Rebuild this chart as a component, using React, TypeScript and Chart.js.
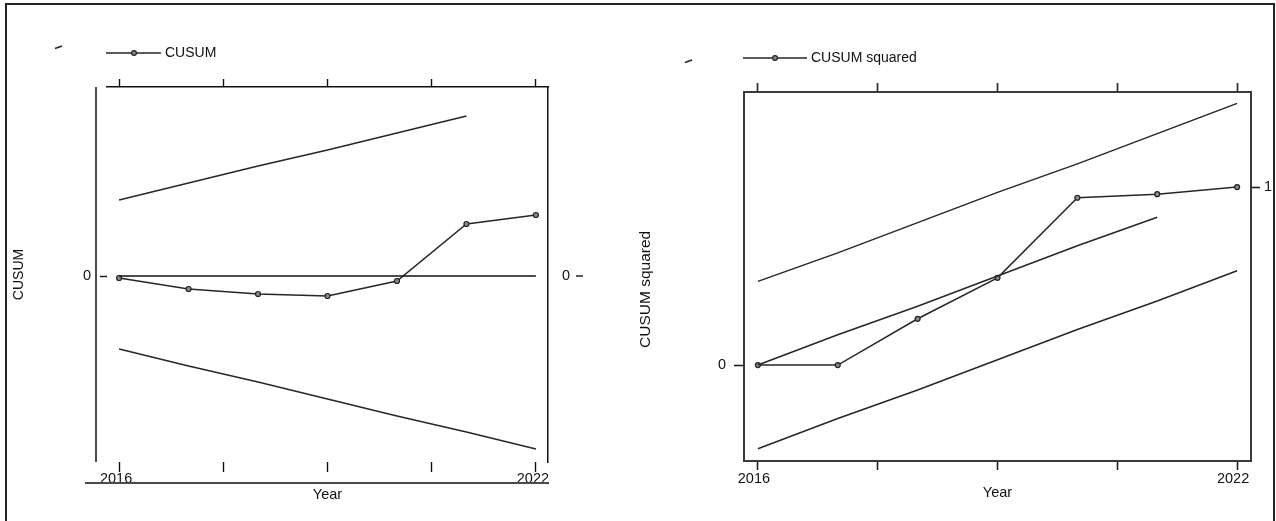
import React, { useEffect, useRef } from "react";
import { Chart, registerables } from "chart.js";
Chart.register(...registerables);

// ---------- data ----------
const YEARS = [2016, 2017, 2018, 2019, 2020, 2021, 2022];
const CUSUM = [-0.2, -1.3, -1.8, -2.0, -0.5, 5.2, 6.1];
const CUSUM_UPPER = [7.6, 9.3, 11.0, 12.6, 14.3, 16.0]; // 2016-2021
const CUSUM_LOWER = [-7.3, -9.0, -10.6, -12.3, -14.0, -15.6, -17.3];
const CUSUM_ZERO = [0, 0, 0, 0, 0, 0, 0];

const CUSUMSQ = [0, 0, 0.26, 0.49, 0.94, 0.96, 1.0];
const CUSUMSQ_MID = [0, 0.17, 0.33, 0.5, 0.67, 0.83]; // 2016-2021
const CUSUMSQ_UPPER = [0.47, 0.63, 0.8, 0.97, 1.13, 1.3, 1.47];
const CUSUMSQ_LOWER = [-0.47, -0.3, -0.14, 0.03, 0.2, 0.36, 0.53];

const X_TICKS = [2016, 2017.5, 2019, 2020.5, 2022];
const X_TICK_LABELS = [2016, 2022];
const CUSUM_Y_TICKS = [0];
const CUSUMSQ_Y_TICKS_LEFT = [0];
const CUSUMSQ_Y_TICKS_RIGHT = [1];

const X_MIN = 2015.826;
const X_MAX = 2022.174;

// ---------- styles ----------
const SANS = "'Liberation Sans', Arial, sans-serif";
const INK = "#111";
const LINE = "#262626";

const pts = (vals: number[]) => vals.map((v, i) => ({ x: YEARS[i], y: v }));

const boundStyle = {
  borderColor: LINE,
  borderWidth: 1.5,
  pointRadius: 0,
  fill: false,
  tension: 0,
};
const seriesStyle = {
  borderColor: LINE,
  borderWidth: 1.5,
  pointRadius: 2.5,
  pointBorderWidth: 1.2,
  pointBorderColor: "#222",
  pointBackgroundColor: "#888",
  fill: false,
  tension: 0,
};

const setTicks = (vals: number[]) => (s: any) => {
  s.ticks = vals.map((v) => ({ value: v }));
};

function drawLegend(ctx: CanvasRenderingContext2D, x0: number, x1: number, xm: number, y: number, text: string) {
  ctx.save();
  ctx.strokeStyle = LINE;
  ctx.lineWidth = 1.5;
  ctx.beginPath();
  ctx.moveTo(x0, y);
  ctx.lineTo(x1, y);
  ctx.stroke();
  ctx.beginPath();
  ctx.arc(xm, y, 2.4, 0, Math.PI * 2);
  ctx.fillStyle = "#888";
  ctx.fill();
  ctx.lineWidth = 1.2;
  ctx.strokeStyle = "#222";
  ctx.stroke();
  ctx.fillStyle = INK;
  ctx.font = `14px ${SANS}`;
  ctx.textBaseline = "middle";
  ctx.textAlign = "left";
  ctx.fillText(text, x1 + 4, y);
  ctx.restore();
}

function strayDash(ctx: CanvasRenderingContext2D, x: number, y: number) {
  ctx.save();
  ctx.strokeStyle = "#222";
  ctx.lineWidth = 1.6;
  ctx.beginPath();
  ctx.moveTo(x, y + 1.5);
  ctx.lineTo(x + 7, y - 1);
  ctx.stroke();
  ctx.restore();
}

const leftDeco = {
  id: "leftDeco",
  afterDraw(chart: any) {
    const { ctx, chartArea: ca, scales } = chart;
    ctx.save();
    // detached left vertical line
    ctx.strokeStyle = "#111";
    ctx.lineWidth = 1.5;
    ctx.beginPath();
    ctx.moveTo(ca.left - 11, ca.top);
    ctx.lineTo(ca.left - 11, ca.bottom);
    ctx.stroke();
    // gray baseline under the tick labels
    ctx.strokeStyle = "#4a4a4a";
    ctx.lineWidth = 2.2;
    ctx.beginPath();
    ctx.moveTo(ca.left - 22, ca.bottom + 21);
    ctx.lineTo(ca.right + 1, ca.bottom + 21);
    ctx.stroke();
    // right-side tick dash after the "0" label
    const y0 = scales.y2.getPixelForValue(0);
    ctx.strokeStyle = "#111";
    ctx.lineWidth = 1.4;
    ctx.beginPath();
    ctx.moveTo(ca.right + 28, y0);
    ctx.lineTo(ca.right + 35, y0);
    ctx.stroke();
    ctx.restore();
    strayDash(ctx, ca.left - 52, ca.top - 40);
    drawLegend(ctx, ca.left - 1, ca.left + 54, ca.left + 27, ca.top - 34, "CUSUM");
  },
};

const rightDeco = {
  id: "rightDeco",
  afterDraw(chart: any) {
    const { ctx, chartArea: ca } = chart;
    strayDash(ctx, ca.left - 59, ca.top - 31);
    drawLegend(ctx, ca.left - 1, ca.left + 63, ca.left + 31, ca.top - 34, "CUSUM squared");
  },
};

const tickFont = { family: SANS, size: 14.5 };

function leftConfig(): any {
  return {
    type: "line",
    data: {
      datasets: [
        { ...boundStyle, data: pts(CUSUM_UPPER) },
        { ...boundStyle, data: pts(CUSUM_LOWER) },
        { ...boundStyle, borderWidth: 1.5, borderColor: "#111", data: pts(CUSUM_ZERO) },
        { ...seriesStyle, label: "CUSUM", data: pts(CUSUM) },
      ],
    },
    options: {
      responsive: false,
      animation: false,
      devicePixelRatio: 1,
      layout: { padding: 0 },
      plugins: { legend: { display: false }, tooltip: { enabled: false } },
      scales: {
        x: {
          type: "linear",
          position: "bottom",
          min: X_MIN,
          max: X_MAX,
          afterBuildTicks: setTicks(X_TICKS),
          afterFit: (s: any) => { s.height = 59; },
          ticks: {
            font: tickFont,
            color: INK,
            padding: -2,
            labelOffset: -3,
            maxRotation: 0,
            autoSkip: false,
            callback: (v: number) => (X_TICK_LABELS.includes(v) ? String(v) : ""),
          },
          grid: { drawOnChartArea: false, drawTicks: true, tickLength: 10, tickColor: "#111", tickWidth: 1.4 },
          border: { display: false },
          title: { display: true, text: "Year", font: tickFont, color: INK, padding: { top: 0, bottom: 17 } },
        },
        x2: {
          type: "linear",
          position: "top",
          min: X_MIN,
          max: X_MAX,
          afterBuildTicks: setTicks(X_TICKS),
          afterFit: (s: any) => { s.height = 87; },
          ticks: { display: false },
          grid: { drawOnChartArea: false, drawTicks: true, tickLength: 8, tickColor: "#111", tickWidth: 1.4 },
          border: { display: true, color: "#111", width: 1.5 },
        },
        y: {
          type: "linear",
          position: "left",
          min: -18.6,
          max: 18.9,
          afterBuildTicks: setTicks(CUSUM_Y_TICKS),
          afterFit: (s: any) => { s.width = 107; },
          ticks: { font: tickFont, color: INK, padding: 9 },
          grid: { drawOnChartArea: false, drawTicks: true, tickLength: 7, tickColor: "#111", tickWidth: 1.4 },
          border: { display: false },
          title: { display: true, text: "CUSUM", font: { family: SANS, size: 14 }, color: INK, padding: { top: 11, bottom: 0 } },
        },
        y2: {
          type: "linear",
          position: "right",
          min: -18.6,
          max: 18.9,
          afterBuildTicks: setTicks(CUSUM_Y_TICKS),
          afterFit: (s: any) => { s.width = 1276 - 548; },
          ticks: { font: tickFont, color: INK, padding: 14 },
          grid: { drawOnChartArea: false, drawTicks: false },
          border: { display: true, color: "#111", width: 1.5 },
        },
      },
    },
    plugins: [leftDeco],
  };
}

function rightConfig(): any {
  return {
    type: "line",
    data: {
      datasets: [
        { ...boundStyle, data: pts(CUSUMSQ_UPPER) },
        { ...boundStyle, data: pts(CUSUMSQ_MID) },
        { ...boundStyle, data: pts(CUSUMSQ_LOWER) },
        { ...seriesStyle, label: "CUSUM squared", data: pts(CUSUMSQ) },
      ],
    },
    options: {
      responsive: false,
      animation: false,
      devicePixelRatio: 1,
      layout: { padding: 0 },
      plugins: { legend: { display: false }, tooltip: { enabled: false } },
      scales: {
        x: {
          type: "linear",
          position: "bottom",
          min: X_MIN,
          max: X_MAX,
          afterBuildTicks: setTicks(X_TICKS),
          afterFit: (s: any) => { s.height = 60; },
          ticks: {
            font: tickFont,
            color: INK,
            padding: 0,
            labelOffset: -4,
            maxRotation: 0,
            autoSkip: false,
            callback: (v: number) => (X_TICK_LABELS.includes(v) ? String(v) : ""),
          },
          grid: { drawOnChartArea: false, drawTicks: true, tickLength: 9, tickColor: "#222", tickWidth: 1.6 },
          border: { display: true, color: "#3a3a3a", width: 2 },
          title: { display: true, text: "Year", font: tickFont, color: INK, padding: { top: 0, bottom: 19 } },
        },
        x2: {
          type: "linear",
          position: "top",
          min: X_MIN,
          max: X_MAX,
          afterBuildTicks: setTicks(X_TICKS),
          afterFit: (s: any) => { s.height = 92; },
          ticks: { display: false },
          grid: { drawOnChartArea: false, drawTicks: true, tickLength: 9, tickColor: "#222", tickWidth: 1.6 },
          border: { display: true, color: "#3a3a3a", width: 2 },
        },
        y: {
          type: "linear",
          position: "left",
          min: -0.539,
          max: 1.534,
          afterBuildTicks: setTicks(CUSUMSQ_Y_TICKS_LEFT),
          afterFit: (s: any) => { s.width = 744; },
          ticks: { font: tickFont, color: INK, padding: 8 },
          grid: { drawOnChartArea: false, drawTicks: true, tickLength: 10, tickColor: "#222", tickWidth: 1.6 },
          border: { display: true, color: "#3a3a3a", width: 2 },
          title: {
            display: true,
            text: "CUSUM squared      ",
            font: { family: SANS, size: 15.5 },
            color: INK,
            padding: { top: 636, bottom: 0 },
          },
        },
        y2: {
          type: "linear",
          position: "right",
          min: -0.539,
          max: 1.534,
          afterBuildTicks: setTicks(CUSUMSQ_Y_TICKS_RIGHT),
          afterFit: (s: any) => { s.width = 1276 - 1251; },
          ticks: { font: tickFont, color: INK, padding: 4 },
          grid: { drawOnChartArea: false, drawTicks: true, tickLength: 9, tickColor: "#222", tickWidth: 1.6 },
          border: { display: true, color: "#3a3a3a", width: 2 },
        },
      },
    },
    plugins: [rightDeco],
  };
}

export default function App() {
  const leftRef = useRef<HTMLCanvasElement>(null);
  const rightRef = useRef<HTMLCanvasElement>(null);

  useEffect(() => {
    const c1 = new Chart(leftRef.current as HTMLCanvasElement, leftConfig());
    const c2 = new Chart(rightRef.current as HTMLCanvasElement, rightConfig());
    return () => {
      c1.destroy();
      c2.destroy();
    };
  }, []);

  const canvasStyle: React.CSSProperties = { position: "absolute", left: 0, top: 0, width: 1276, height: 521 };
  return (
    <div style={{ position: "absolute", left: 0, top: 0, width: 1276, height: 521, overflow: "hidden", background: "#fff" }}>
      <canvas ref={leftRef} width={1276} height={521} style={canvasStyle} />
      <canvas ref={rightRef} width={1276} height={521} style={canvasStyle} />
      <div style={{ position: "absolute", left: 5, top: 3, width: 1266, height: 560, border: "2px solid #222", pointerEvents: "none" }} />
    </div>
  );
}
